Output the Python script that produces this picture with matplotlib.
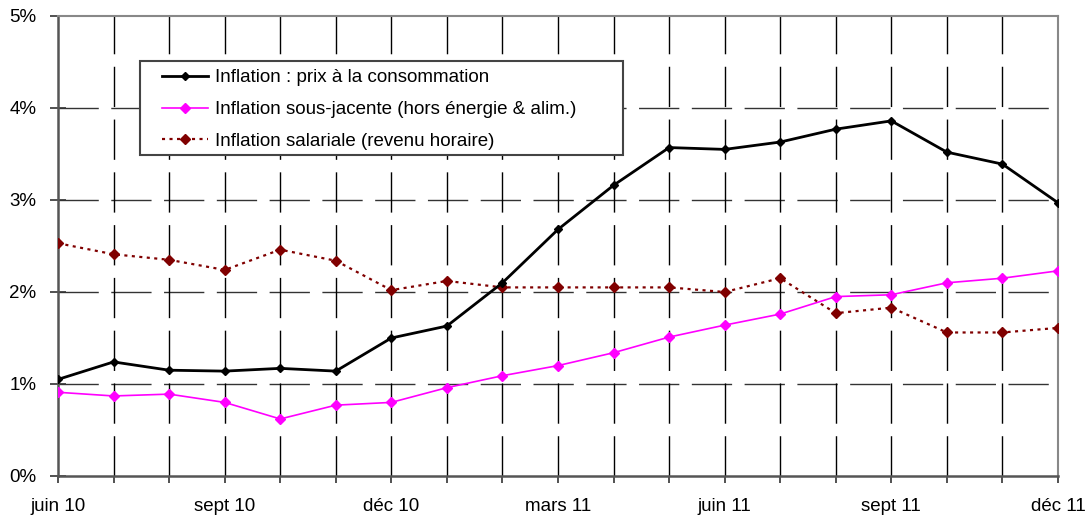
import matplotlib
matplotlib.use("Agg")
import matplotlib.pyplot as plt
from matplotlib.patches import Rectangle

plt.rcParams['font.family'] = ['Liberation Sans', 'DejaVu Sans']
plt.rcParams['lines.scale_dashes'] = False

months = ["juin 10", "juil 10", "août 10", "sept 10", "oct 10", "nov 10",
          "déc 10", "janv 11", "févr 11", "mars 11", "avr 11", "mai 11",
          "juin 11", "juil 11", "août 11", "sept 11", "oct 11", "nov 11", "déc 11"]

cpi = [1.05, 1.24, 1.15, 1.14, 1.17, 1.14, 1.50, 1.63, 2.10, 2.68, 3.16,
       3.57, 3.55, 3.63, 3.77, 3.86, 3.52, 3.39, 2.97]
core = [0.91, 0.87, 0.89, 0.80, 0.62, 0.77, 0.80, 0.96, 1.09, 1.20, 1.34,
        1.51, 1.64, 1.76, 1.95, 1.97, 2.10, 2.15, 2.23]
wages = [2.53, 2.41, 2.35, 2.24, 2.46, 2.34, 2.02, 2.12, 2.05, 2.05, 2.05,
         2.05, 2.00, 2.15, 1.77, 1.83, 1.56, 1.56, 1.61]

labels = ["Inflation : prix à la consommation",
          "Inflation sous-jacente (hors énergie & alim.)",
          "Inflation salariale (revenu horaire)"]

yticks = [0, 1, 2, 3, 4, 5]
ytick_labels = ["0%", "1%", "2%", "3%", "4%", "5%"]
xtick_step = 3

fig = plt.figure(figsize=(10.9, 5.18), dpi=100)
ax = fig.add_axes([58 / 1090, 42 / 518, 1000 / 1090, 460 / 518])

x = list(range(len(months)))

# dashed grid, drawn under the series
for yv in yticks[1:-1]:
    ax.axhline(yv, color='#333333', lw=1.0, ls=(0, (29, 9)), zorder=1)
for xv in x[1:-1]:
    ax.axvline(xv, color='black', lw=1.0, ls=(0, (29, 9)), zorder=1)

ax.plot(x, cpi, color='black', lw=2.0, marker='D', ms=4.2,
        label=labels[0], zorder=4)
ax.plot(x, core, color='#ff00ff', lw=1.2, marker='D', ms=5,
        label=labels[1], zorder=3)
ax.plot(x, wages, color='#800000', lw=1.6, ls=(0, (2.2, 3.2)), marker='D', ms=5,
        label=labels[2], zorder=3)

ax.set_xlim(0, len(months) - 1)
ax.set_ylim(0, 5)

ax.set_yticks(yticks)
ax.set_yticklabels(ytick_labels)
ax.set_xticks(x)
ax.set_xticklabels([m if i % xtick_step == 0 else "" for i, m in enumerate(months)])

ax.tick_params(axis='y', direction='inout', length=11, width=1.2,
               color='#333333', labelsize=13.5, pad=10)
ax.tick_params(axis='x', direction='out', length=5, width=1.2,
               color='#333333', labelsize=13.5, pad=11)

for side in ['left', 'bottom']:
    ax.spines[side].set_color('#555555')
    ax.spines[side].set_linewidth(1.8)
for side in ['right', 'top']:
    ax.spines[side].set_color('#888888')
    ax.spines[side].set_linewidth(1.5)

# legend box with the entries set inside it
box = Rectangle((0.082, 0.698), 0.483, 0.204, transform=ax.transAxes,
                facecolor='white', edgecolor='#444444', lw=1.5, zorder=5)
ax.add_patch(box)
leg = ax.legend(loc='upper left', bbox_to_anchor=(0.104, 0.884),
                borderaxespad=0, fontsize=13.5, frameon=False,
                handlelength=2.45, handletextpad=0.37,
                labelspacing=0.78, borderpad=0)
leg.set_zorder(6)

fig.savefig("out.png", dpi=100)
